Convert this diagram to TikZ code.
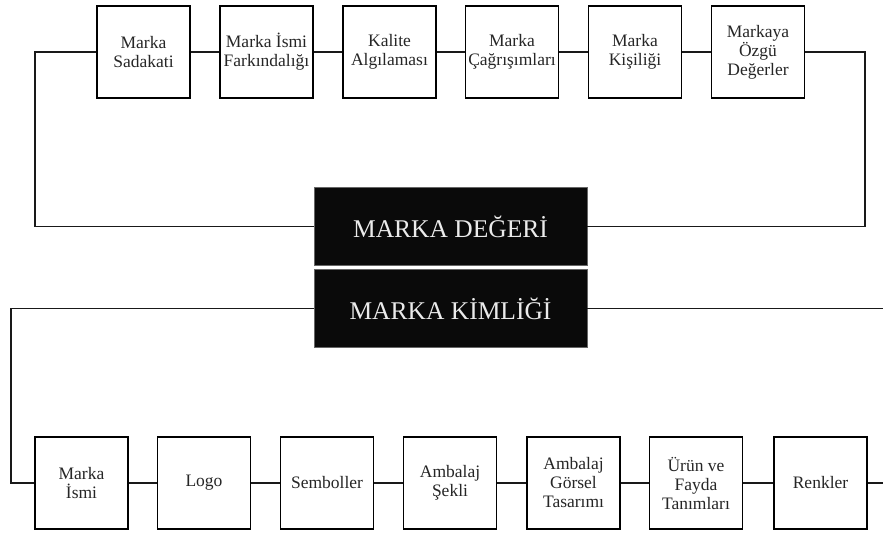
\documentclass[tikz,border=0pt]{standalone}
\usepackage{fontspec}
\setmainfont{Liberation Serif}
\begin{document}
\begin{tikzpicture}[x=1pt,y=-1pt,
  ibox/.style={draw=black,line width=1.4pt,fill=white,minimum width=93pt,minimum height=92pt,inner sep=0pt,align=center,font=\fontsize{17.5}{19}\selectfont,text=black!85},
  dbox/.style={fill=black!96,draw=black!60,line width=0.6pt,minimum width=273pt,minimum height=78pt,inner sep=0pt,text=white!92!black,font=\fontsize{25.5}{28}\selectfont},
  conn/.style={line width=1.4pt,draw=black!90}]
\useasboundingbox (0,0) rectangle (883,533);
% top row
\node[ibox] (t1) at (143.5,52) {Marka\\Sadakati};
\node[ibox] (t2) at (266.5,52) {Marka İsmi\\Farkındalığı};
\node[ibox] (t3) at (389.5,52) {Kalite\\Algılaması};
\node[ibox] (t4) at (512,52) {Marka\\Çağrışımları};
\node[ibox] (t5) at (635,52) {Marka\\Kişiliği};
\node[ibox] (t6) at (758,52) {Markaya\\Özgü\\Değerler};
% center
\node[dbox] (md) at (450.5,226.5) {MARKA DEĞERİ};
\node[dbox] (mk) at (450.5,308.5) {MARKA KİMLİĞİ};
% bottom row
\node[ibox] (b1) at (81.5,483) {Marka\\İsmi};
\node[ibox] (b2) at (204,483) {Logo};
\node[ibox] (b3) at (327,483) {Semboller};
\node[ibox] (b4) at (450,483) {Ambalaj\\Şekli};
\node[ibox] (b5) at (573.5,483) {Ambalaj\\Görsel\\Tasarımı};
\node[ibox] (b6) at (696,483) {Ürün ve\\Fayda\\Tanımları};
\node[ibox] (b7) at (820.5,483) {Renkler};
% coordinates
\coordinate (tl) at (35,52);
\coordinate (tr) at (865,52);
\coordinate (bl) at (11,483);
\coordinate (br1) at (883,308.5);
\coordinate (br2) at (883,483);
% connectors top
\draw[conn] (t1) -- (t2);
\draw[conn] (t2) -- (t3);
\draw[conn] (t3) -- (t4);
\draw[conn] (t4) -- (t5);
\draw[conn] (t5) -- (t6);
\draw[conn] (t1.west) -- (tl) |- (md.west);
\draw[conn] (t6.east) -- (tr) |- (md.east);
% connectors bottom
\draw[conn] (b1) -- (b2);
\draw[conn] (b2) -- (b3);
\draw[conn] (b3) -- (b4);
\draw[conn] (b4) -- (b5);
\draw[conn] (b5) -- (b6);
\draw[conn] (b6) -- (b7);
\draw[conn] (mk.west) -| (bl) -- (b1.west);
\draw[conn] (mk.east) -- (br1);
\draw[conn] (b7.east) -- (br2);
\end{tikzpicture}
\end{document}
